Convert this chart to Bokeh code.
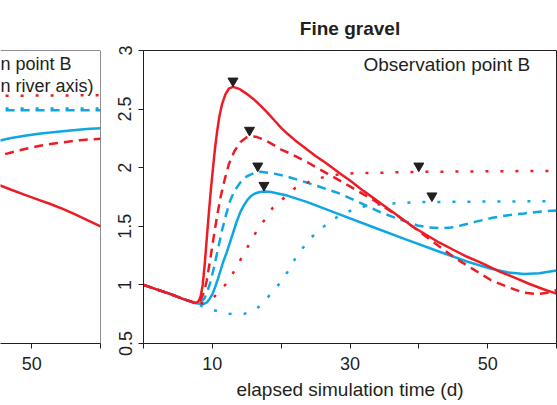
from bokeh.plotting import figure
from bokeh.layouts import row
from bokeh.models import FixedTicker, Span, Label, Title, Range1d
from bokeh.embed import file_html
from bokeh.resources import INLINE

# ---------------- data: right panel "Fine gravel", observation point B ----------------
# red solid
rs_day = [0, 2, 4, 6, 7.5, 8.0, 8.3, 8.6, 8.9, 9.2, 9.5, 9.8, 10.1, 10.4, 10.7, 11.0, 11.4, 11.9,
          12.4, 13.0, 14.0, 15.0, 16.0, 17.0, 18.0, 19.0, 20.0, 21.0, 22.0, 23.0, 24.0, 25.0,
          26.5, 28.6, 30.0, 32.0, 34.0, 36.0, 38.0, 39.3, 41.0, 43.0, 45.0, 47.0, 49.0, 51.9,
          54.0, 56.0, 58.0, 60.0]
rs_val = [1.00, 0.96, 0.92, 0.875, 0.845, 0.86, 0.90, 1.00, 1.18, 1.40, 1.62, 1.82, 2.00, 2.17,
          2.31, 2.43, 2.54, 2.625, 2.675, 2.69, 2.67, 2.63, 2.585, 2.53, 2.47, 2.405, 2.34, 2.285,
          2.235, 2.19, 2.145, 2.10, 2.04, 1.948, 1.89, 1.80, 1.716, 1.63, 1.545, 1.49, 1.43, 1.36,
          1.30, 1.24, 1.19, 1.11, 1.06, 1.01, 0.965, 0.925]
# red dashed
rd_day = [0, 2, 4, 6, 7.7, 8.3, 8.8, 9.2, 9.7, 10.2, 10.7, 11.2, 11.8, 12.4, 13.2, 14.1, 15.0,
          15.5, 16.3, 17.0, 18.0, 19.0, 20.0, 21.35, 24.0, 26.7, 30.0, 33.5, 36.5, 39.3, 42.0,
          45.1, 48.0, 50.5, 53.0, 55.3, 57.0, 58.5, 60.0]
rd_val = [1.00, 0.96, 0.92, 0.875, 0.845, 0.87, 0.94, 1.04, 1.22, 1.41, 1.59, 1.75, 1.90, 2.03,
          2.14, 2.22, 2.26, 2.27, 2.265, 2.25, 2.225, 2.19, 2.155, 2.12, 2.04, 1.95, 1.84, 1.72,
          1.605, 1.49, 1.37, 1.236, 1.13, 1.04, 0.98, 0.933, 0.922, 0.93, 0.955]
# red dotted
rdt_day = [0, 2, 4, 6, 7.5, 8.7, 10.3, 11.8, 13.0, 14.08, 16.26, 18.78, 22.08, 24.75, 26.5, 29.1,
           31.0, 33.5, 39.8, 60.0]
rdt_val = [1.00, 0.96, 0.92, 0.875, 0.845, 0.844, 0.90, 0.995, 1.10, 1.214, 1.441, 1.658, 1.829,
           1.897, 1.925, 1.948, 1.953, 1.956, 1.965, 1.973]
# blue solid
bs_day = [0, 2, 4, 6, 7.5, 8.7, 9.2, 9.6, 10.0, 10.4, 10.8, 11.2, 11.6, 12.1, 12.6, 13.1, 13.6,
          14.1, 14.6, 15.1, 15.6, 16.2, 16.9, 17.7, 18.5, 19.5, 21.0, 23.8, 28.0, 33.5, 38.0,
          43.2, 47.0, 50.5, 53.0, 55.3, 57.5, 60.0]
bs_val = [1.00, 0.96, 0.92, 0.875, 0.845, 0.835, 0.85, 0.88, 0.92, 0.98, 1.05, 1.125, 1.20, 1.28,
          1.37, 1.46, 1.55, 1.625, 1.68, 1.725, 1.758, 1.78, 1.793, 1.797, 1.792, 1.78, 1.76,
          1.706, 1.612, 1.49, 1.39, 1.279, 1.20, 1.137, 1.105, 1.093, 1.10, 1.123]
# blue dashed
bd_day = [0, 2, 4, 6, 7.5, 8.3, 8.8, 9.2, 9.7, 10.2, 10.8, 11.4, 12.0, 12.6, 13.3, 14.1, 15.0,
          16.0, 17.0, 18.5, 20.5, 22.8, 25.7, 28.6, 31.5, 34.4, 37.4, 39.8, 41.5, 43.2, 44.7,
          46.1, 48.3, 50.5, 53.0, 55.3, 57.5, 60.0]
bd_val = [1.00, 0.96, 0.92, 0.875, 0.845, 0.85, 0.88, 0.93, 1.02, 1.14, 1.30, 1.464, 1.60, 1.72,
          1.81, 1.876, 1.925, 1.953, 1.965, 1.955, 1.93, 1.89, 1.835, 1.777, 1.70, 1.62, 1.555,
          1.507, 1.49, 1.484, 1.49, 1.507, 1.54, 1.57, 1.595, 1.61, 1.625, 1.635]
# blue dotted
bdt_day = [0, 2, 4, 6, 7.5, 8.5, 9.5, 10.4, 11.5, 12.5, 13.6, 14.65, 15.7, 16.7, 17.5, 18.2, 19.6,
           20.9, 22.0, 24.0, 25.7, 27.4, 29.5, 31.5, 33.5, 35.4, 39.8, 50.0, 60.0]
bdt_val = [1.00, 0.96, 0.92, 0.875, 0.845, 0.818, 0.795, 0.782, 0.765, 0.753, 0.748, 0.753, 0.775,
           0.81, 0.85, 0.904, 1.00, 1.108, 1.22, 1.385, 1.475, 1.556, 1.62, 1.663, 1.682, 1.692,
           1.706, 1.711, 1.714]

# peak markers: red solid, red dashed, red dotted, blue dashed, blue solid, blue dotted
peak_day = [13.0, 15.4, 40.0, 16.6, 17.5, 41.9]
peak_val = [2.69, 2.27, 1.965, 1.965, 1.80, 1.71]

# ---------------- data: left panel (only its right end is visible) ----------------
l_rs_day = [44.0, 45.4, 47.0, 49.0, 51.0, 52.7, 54.5, 56.0, 58.0, 60.0]
l_rs_val = [1.88, 1.848, 1.812, 1.768, 1.725, 1.69, 1.648, 1.61, 1.555, 1.50]
l_rd_day = [44.0, 45.4, 47.0, 49.0, 51.0, 53.0, 55.0, 57.0, 60.0]
l_rd_val = [2.085, 2.104, 2.13, 2.16, 2.185, 2.205, 2.22, 2.235, 2.247]
l_rdt_day = [44.0, 52.0, 60.0]
l_rdt_val = [2.612, 2.616, 2.618]
l_bs_day = [44.0, 45.4, 47.0, 49.0, 51.0, 52.7, 54.5, 56.0, 58.0, 60.0]
l_bs_val = [2.21, 2.232, 2.253, 2.273, 2.29, 2.30, 2.312, 2.32, 2.33, 2.337]
l_bd_day = [44.0, 52.0, 60.0]
l_bd_val = [2.49, 2.49, 2.49]
l_bdt_day = [44.0, 52.0, 60.0]
l_bdt_val = [2.505, 2.505, 2.505]

x_ticks = [0, 10, 20, 30, 40, 50, 60]
x_tick_labels = ["", "10", "", "30", "", "50", ""]
y_ticks = [0.5, 1, 1.5, 2, 2.5, 3]
y_tick_labels = ["0.5", "1", "1.5", "2", "2.5", "3"]

FONT = "Liberation Sans"
INK = "#231F20"
RED = "#ED1C24"
BLUE = "#0FA6E4"
LW = 2.5
DASH = "9 6"
DOT = "3 12"


def style_xaxis(ax):
    ax.ticker = FixedTicker(ticks=x_ticks)
    ax.major_label_overrides = dict(zip(x_ticks, x_tick_labels))
    ax.minor_tick_line_color = None
    ax.major_tick_in = 0
    ax.major_tick_out = 5
    ax.axis_line_color = INK
    ax.major_tick_line_color = INK
    ax.major_label_text_font = FONT
    ax.major_label_text_font_size = "18px"
    ax.major_label_text_color = INK
    ax.major_label_standoff = 8


# ---------------- left panel ----------------
left = figure(width=101, height=405, x_range=Range1d(45.44, 60), y_range=Range1d(0.5, 3),
              min_border_left=0, min_border_right=1, min_border_top=50, min_border_bottom=62,
              y_axis_location=None, toolbar_location=None, output_backend="svg", title=None,
              outline_line_color=None, background_fill_color="white")
left.grid.grid_line_color = None
style_xaxis(left.xaxis[0])
left.add_layout(Span(location=60, dimension="height", line_color=INK, line_width=1))
left.add_layout(Span(location=3, dimension="width", line_color=INK, line_width=1))

left.line(l_bd_day, l_bd_val, line_color=BLUE, line_width=LW, line_dash=DASH)
left.line(l_bdt_day, l_bdt_val, line_color=BLUE, line_width=LW, line_dash=DOT)
left.line(l_bs_day, l_bs_val, line_color=BLUE, line_width=LW)
left.line(l_rdt_day, l_rdt_val, line_color=RED, line_width=LW, line_dash=DOT)
left.line(l_rd_day, l_rd_val, line_color=RED, line_width=LW, line_dash=DASH)
left.line(l_rs_day, l_rs_val, line_color=RED, line_width=LW)

# visible remainder of the left panel's annotation
for txt, yy in [("n point B", 2.889), ("n river axis)", 2.70)]:
    left.add_layout(Label(x=45.44, y=yy, text=txt, text_align="left", text_baseline="middle",
                          text_font=FONT, text_font_size="18px", text_color=INK))

# ---------------- right panel ----------------
right = figure(width=456, height=405, x_range=Range1d(0, 60), y_range=Range1d(0.5, 3),
               min_border_left=42, min_border_right=1, min_border_top=50, min_border_bottom=62,
               toolbar_location=None, output_backend="svg",
               title=Title(text="Fine gravel", align="center", offset=5.5, text_font=FONT,
                           text_font_size="19px", text_font_style="bold", text_color=INK,
                           standoff=23),
               outline_line_color=INK, outline_line_width=1)
right.grid.grid_line_color = None
style_xaxis(right.xaxis[0])
ya = right.yaxis[0]
ya.ticker = FixedTicker(ticks=y_ticks)
ya.major_label_overrides = dict(zip(y_ticks, y_tick_labels))
ya.minor_tick_line_color = None
ya.major_tick_in = 0
ya.major_tick_out = 5
ya.axis_line_color = INK
ya.major_tick_line_color = INK
ya.major_label_text_font = FONT
ya.major_label_text_font_size = "18px"
ya.major_label_text_color = INK
ya.major_label_orientation = "vertical"
ya.major_label_standoff = 7

right.add_layout(Title(text="elapsed simulation time (d)", align="center", offset=-13,
                       text_font=FONT, text_font_size="19px", text_font_style="normal",
                       text_color=INK, standoff=8), "below")

right.line(bdt_day, bdt_val, line_color=BLUE, line_width=LW, line_dash=DOT)
right.line(bd_day, bd_val, line_color=BLUE, line_width=LW, line_dash=DASH)
right.line(bs_day, bs_val, line_color=BLUE, line_width=LW)
right.line(rdt_day, rdt_val, line_color=RED, line_width=LW, line_dash=DOT)
right.line(rd_day, rd_val, line_color=RED, line_width=LW, line_dash=DASH)
right.line(rs_day, rs_val, line_color=RED, line_width=LW)

marker_y = [v + 0.05 for v in peak_val]
right.scatter(peak_day, marker_y, marker="inverted_triangle", size=10, color=INK)

right.add_layout(Label(x=44.07, y=2.88, text="Observation point B", text_align="center",
                       text_baseline="middle", text_font=FONT, text_font_size="19px",
                       text_color=INK))

layout = row(left, right, spacing=0)
open("out.html", "w").write(file_html(layout, INLINE))
